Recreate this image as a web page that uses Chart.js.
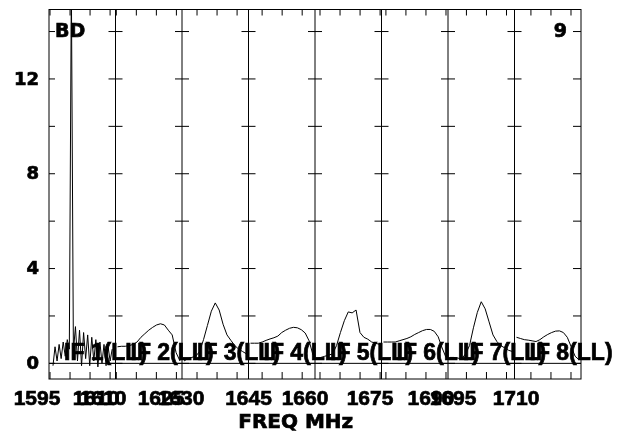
<!DOCTYPE html>
<html>
<head>
<meta charset="utf-8">
<script src="https://cdn.jsdelivr.net/npm/chart.js@4/dist/chart.umd.min.js"></script>
<style>
  html, body { margin: 0; padding: 0; background: #fff; }
  #wrap { width: 619px; height: 434px; }
</style>
</head>
<body>
<div id="wrap"><canvas id="chart"></canvas></div>
<script>
// amplitude per channel, one array per IF
const if1 = [-0.1, 0.7, 0.1, 0.8, 0.2, 0.9, 0.3, 1.0, 0.6, 16, 0.5, 1.55, 0.1, 1.4, -0.1,
             1.3, 0.2, 1.2, -0.1, 1.1, 0.1, 1.0, -0.15, 0.9, 0.0, 0.8, -0.1, 0.7, 0.1, 0.6];
const if2 = [0.7, 0.72, 0.72, 0.75, 0.8, 0.9, 1.1, 1.25, 1.4, 1.52, 1.62, 1.67, 1.62, 1.4, 1.2, 0.45, 0.1];
const if3 = [0.1, 0.2, 0.25, 0.3, 0.5, 1.0, 1.6, 2.2, 2.55, 2.25, 1.65, 1.2, 0.97, 0.75, 0.6, 0.5, 0.4];
const if4 = [0.85, 0.85, 0.85, 0.9, 0.97, 1.03, 1.08, 1.15, 1.3, 1.4, 1.48, 1.52, 1.5, 1.42, 1.28, 0.95, 0.35];
const if5 = [0.2, 0.25, 0.3, 0.35, 0.4, 0.75, 1.3, 1.8, 2.17, 2.13, 2.25, 1.3, 1.1, 1.02, 0.9, 0.85, 0.8];
const if6 = [0.9, 0.9, 0.9, 0.9, 0.95, 1.0, 1.05, 1.12, 1.22, 1.3, 1.38, 1.43, 1.43, 1.35, 1.12, 0.65, 0.25];
const if7 = [0.25, 0.25, 0.22, 0.2, 0.4, 0.75, 1.5, 2.15, 2.6, 2.3, 1.75, 1.2, 0.92, 0.75, 0.65, 0.55, 0.5];
const if8 = [1.1, 1.05, 1.0, 0.98, 0.95, 0.92, 1.0, 1.12, 1.22, 1.3, 1.36, 1.37, 1.3, 1.1, 0.7, 0.3, 0.15];
const spectra = [if1, if2, if3, if4, if5, if6, if7, if8];

const ifNames = ["IF 1(LL)", "IF 2(LL)", "IF 3(LL)", "IF 4(LL)", "IF 5(LL)", "IF 6(LL)", "IF 7(LL)", "IF 8(LL)"];
// part of each IF band covered by channels (fraction of the band)
const bandFrom = [0.06, 0.03, 0.03, 0.03, 0.03, 0.03, 0.03, 0.03];
const bandTo = [0.95, 0.97, 0.97, 0.97, 0.97, 0.97, 0.97, 0.97];
// start frequency of each IF, MHz, and its width
const ifStartMHz = [1594.75, 1609.8, 1626.25, 1641.6, 1658.75, 1673.9, 1690.4, 1705.9];
const ifWidthMHz = 16.6;

const yLabels = [0, 4, 8, 12];
const freqLabels = ["1595", "1610", "1610", "1625", "1630", "1645", "1660", "1675", "1690", "1695", "1710"];
// where POSSM put each label, in panel units along the x axis
const freqLabelAt = [-0.18, 0.707, 0.812, 1.684, 1.985, 3.0, 3.85, 4.827, 5.744, 6.075, 7.023];

const datasets = spectra.map((vals, i) => ({
  label: ifNames[i],
  data: vals.map((v, k) => ({
    x: i + bandFrom[i] + (bandTo[i] - bandFrom[i]) * k / (vals.length - 1),
    y: v
  })),
  borderColor: "#000",
  borderWidth: 1,
  pointRadius: 0,
  tension: 0,
  fill: false
}));

const line = (ctx, x1, y1, x2, y2) => {
  ctx.beginPath();
  ctx.moveTo(x1, y1);
  ctx.lineTo(x2, y2);
  ctx.stroke();
};

// heavy text like the PGPLOT bold font
const text = (ctx, t, px, py) => {
  ctx.fillText(t, px, py);
  ctx.strokeText(t, px, py);
};

// frame, panel dividers, ticks and all the text
const possmFrame = {
  id: "possmFrame",
  afterDatasetsDraw(chart) {
    const { ctx, chartArea: a, scales: { x, y } } = chart;
    ctx.save();
    ctx.strokeStyle = "#000";
    ctx.lineWidth = 1;
    ctx.strokeRect(a.left, a.top, a.right - a.left, a.bottom - a.top);

    const y0 = y.getPixelForValue(0);
    line(ctx, a.left, y0, a.right, y0);

    for (let i = 1; i < spectra.length; i++) {
      const px = x.getPixelForValue(i);
      line(ctx, px, a.top, px, a.bottom);
    }

    for (let v = 0; v <= 14; v += 2) {
      const py = y.getPixelForValue(v);
      line(ctx, a.left, py, a.left + 6, py);
      line(ctx, a.right - 8, py, a.right, py);
      for (let i = 1; i < spectra.length; i++) {
        const px = x.getPixelForValue(i);
        line(ctx, px - 7, py, px + 7, py);
      }
    }

    ifStartMHz.forEach((f0, i) => {
      for (let f = Math.ceil(f0 / 5) * 5; f < f0 + ifWidthMHz; f += 5) {
        const px = x.getPixelForValue(i + (f - f0) / ifWidthMHz);
        line(ctx, px, a.top, px, a.top + 6);
        line(ctx, px, a.bottom - 7, px, a.bottom);
      }
    });

    ctx.fillStyle = "#000";
    ctx.lineWidth = 0.7;
    ctx.font = "bold 18px 'DejaVu Sans'";
    ctx.textAlign = "right";
    ctx.textBaseline = "middle";
    yLabels.forEach((v) => text(ctx, String(v), a.left - 10, y.getPixelForValue(v) + 1));

    ctx.font = "bold 19px 'DejaVu Sans'";
    ctx.textBaseline = "alphabetic";
    ctx.textAlign = "left";
    text(ctx, "BD", a.left + 6, a.top + 27);
    ctx.textAlign = "right";
    text(ctx, "9", a.right - 14, a.top + 27);

    ctx.font = "bold 21px 'Liberation Sans'";
    ctx.textAlign = "center";
    freqLabels.forEach((t, i) => text(ctx, t, x.getPixelForValue(freqLabelAt[i]), a.bottom + 26));

    ctx.font = "bold 20px 'DejaVu Sans'";
    text(ctx, "FREQ MHz", x.getPixelForValue(3.71), a.bottom + 49);

    ctx.font = "bold 23px 'Liberation Sans'";
    ctx.textAlign = "left";
    ifNames.forEach((t, i) => text(ctx, t, x.getPixelForValue(i) + 15, y0 - 3));
    ctx.restore();
  }
};

new Chart(document.getElementById("chart"), {
  type: "line",
  data: { datasets },
  options: {
    responsive: true,
    maintainAspectRatio: false,
    animation: false,
    layout: { padding: { left: 49, right: 38, top: 9.5, bottom: 55 } },
    scales: {
      x: { type: "linear", min: 0, max: 8, display: false },
      y: { type: "linear", min: -0.66, max: 14.93, display: false }
    },
    plugins: { legend: { display: false }, tooltip: { enabled: false } }
  },
  plugins: [possmFrame]
});
</script>
</body>
</html>
